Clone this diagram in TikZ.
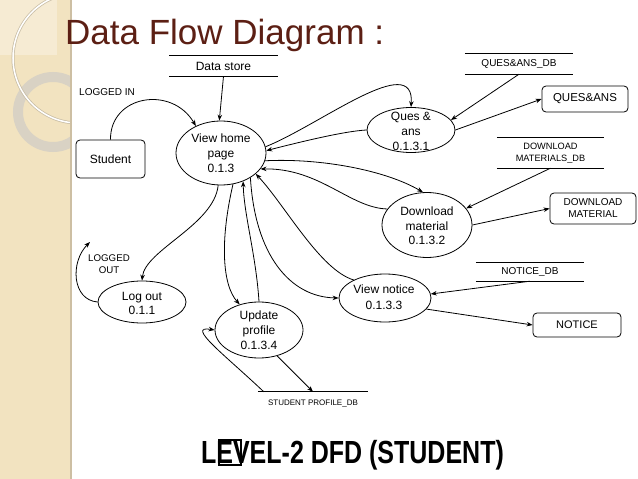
\documentclass[tikz,border=0pt]{standalone}
\usepackage{fontspec}
\setmainfont{Liberation Sans}
\usetikzlibrary{shapes.geometric,arrows.meta,calc}
\definecolor{panel}{HTML}{F2E3C0}
\definecolor{panellight}{HTML}{F6EBD3}
\definecolor{ringcol}{HTML}{D9D2C4}
\definecolor{arcshadow}{HTML}{C8BDA5}
\definecolor{paneledge}{HTML}{CDBFA3}
\definecolor{titlecol}{HTML}{5C1F14}
\begin{document}
\begin{tikzpicture}[x=1pt,y=-1pt,
  proc/.style={ellipse, draw, line width=0.8pt, inner sep=0pt},
  ext/.style={draw, rounded corners=4pt, line width=0.8pt, inner sep=0pt, align=center},
  store/.style={inner sep=0pt, align=center},
  flow/.style={line width=0.8pt, -{Stealth[length=6pt,width=4.5pt]}},
  ptxt/.style={inner sep=0pt, align=center, font=\fontsize{12}{15}\selectfont},
  stline/.style={line width=0.8pt}]

\fill[white] (0,0) rectangle (638,479);
\useasboundingbox (0,0) rectangle (638,479);

% left decorative panel
\fill[panel] (0,0) rectangle (70,479);
\begin{scope}
  \clip (0,0) rectangle (70,479);
  \fill[panellight] (0,0) rectangle (57,55);
  \draw[ringcol, line width=10pt] (53,112) circle[radius=35];
  \draw[arcshadow, line width=3pt] (78,58) circle[radius=65];
  \draw[white, line width=1.5pt] (78,58) circle[radius=65];
\end{scope}
\fill[paneledge] (70,0) rectangle (72,479);

% title
\node[anchor=base west, inner sep=0pt, text=titlecol, font=\fontsize{35}{35}\selectfont] (title) at (65,45) {Data Flow Diagram :};

% external entities
\node[ext, minimum width=69pt, minimum height=38pt, font=\fontsize{12}{14}\selectfont] (student) at (110.5,159) {Student};
\node[ext, minimum width=86pt, minimum height=26pt, font=\fontsize{11.5}{14}\selectfont] (qabox) at (585,99) {QUES\&ANS};
\node[ext, minimum width=86pt, minimum height=31pt, font=\fontsize{10}{12}\selectfont] (dmbox) at (593,208.5) {DOWNLOAD\\MATERIAL};
\node[ext, minimum width=88pt, minimum height=24pt, font=\fontsize{11}{13}\selectfont] (nbox) at (577,325) {NOTICE};

% processes
\node[proc, minimum width=90pt, minimum height=64pt] (vh) at (221,153) {};
\node[ptxt] (vht) at (221,153) {View home\\page\\0.1.3};
\node[proc, minimum width=88pt, minimum height=45pt] (qa) at (411,130) {};
\node[ptxt] (qat) at (411,131) {Ques \&\\ans\\0.1.3.1};
\node[proc, minimum width=90pt, minimum height=65pt] (dl) at (427,225) {};
\node[ptxt, font=\fontsize{12}{14.5}\selectfont] (dlt) at (427,226) {Download\\material\\0.1.3.2};
\node[proc, minimum width=92pt, minimum height=48pt] (vn) at (385,298) {};
\node[ptxt, font=\fontsize{12}{16}\selectfont] (vnt) at (384,297) {View notice\\0.1.3.3};
\node[proc, minimum width=88pt, minimum height=42pt] (lo) at (142,302) {};
\node[ptxt, font=\fontsize{12}{14}\selectfont] (lot) at (142,303) {Log out\\0.1.1};
\node[proc, minimum width=88pt, minimum height=56pt] (up) at (259,330) {};
\node[ptxt] (upt) at (259,330) {Update\\profile\\0.1.3.4};

% data stores
\node[store, minimum width=108pt, minimum height=20pt, font=\fontsize{12}{14}\selectfont] (ds) at (223.5,66) {Data store};
\node[store, minimum width=108pt, minimum height=20pt, font=\fontsize{10}{12}\selectfont] (qadb) at (519,64) {QUES\&ANS\_DB};
\node[store, minimum width=107pt, minimum height=30pt, font=\fontsize{9.2}{12}\selectfont] (dmdb) at (550.5,153) {DOWNLOAD\\MATERIALS\_DB};
\node[store, minimum width=108pt, minimum height=18pt, font=\fontsize{10}{12}\selectfont] (ndb) at (530,272) {NOTICE\_DB};
\node[store, minimum width=110pt, minimum height=22pt, font=\fontsize{8}{10}\selectfont] (spdb) at (313,403) {STUDENT PROFILE\_DB};
\foreach \s in {ds,qadb,dmdb,ndb} {
  \draw[stline] (\s.north west) -- (\s.north east) (\s.south west) -- (\s.south east);
}
\draw[stline] (spdb.north west) -- (spdb.north east);

% labels
\node[anchor=west, inner sep=0pt, font=\fontsize{10}{12}\selectfont] (lin) at (79,92) {LOGGED IN};
\node[align=center, inner sep=0pt, font=\fontsize{9.7}{12}\selectfont] (lout) at (109,264) {LOGGED\\OUT};
\coordinate (loend) at (90,242);

% flows
\draw[flow] (ds.south) -- (vh.93);
\draw[flow] (student.north) .. controls (110,95) and (172,85) .. (vh.133);
\draw[flow] (vh.8) .. controls (320,125) and (415,50) .. (qa.north);
\draw[flow] (qa.west) .. controls (345,131) and (300,142) .. (vh.3);
\draw[flow] (qa.east) -- (qabox.west);
\draw[flow] (qadb.south) -- (qa.14);
\draw[flow] (vh.-10) .. controls (320,158) and (385,170) .. (dl.97);
\draw[flow] (dl.158) .. controls (350,208) and (320,168) .. (vh.-22);
\draw[flow] (dmdb.south) -- (dl.23);
\draw[flow] (dl.east) -- (dmbox.west);
\draw[flow] (ndb.south) -- (vn.5);
\draw[flow] (vn.-15) -- (nbox.west);
\draw[flow] (vn.150) .. controls (320,270) and (285,205) .. (vh.-31);
\draw[flow] (vh.-40) .. controls (255,255) and (290,297) .. (vn.west);
\draw[flow] (vh.-69) .. controls (220,240) and (222,285) .. (up.127);
\draw[flow] (up.north) .. controls (256,255) and (244,215) .. (vh.-52);
\draw[flow] (vh.-95) .. controls (214,225) and (145,250) .. (lo.north);
\draw[flow] (lo.west) .. controls (72,300) and (70,262) .. (loend);
\draw[flow] ([xshift=6pt]spdb.north west) .. controls (225,355) and (185,325) .. (up.west);
\draw[flow] (up.-55) -- (spdb.north);

% bottom caption
\node[anchor=base, inner sep=0pt, font=\bfseries\fontsize{25}{25}\selectfont] (cap) at (352.5,463) {\scalebox{1}[1.28]{LEVEL-2 DFD (STUDENT)}};
\draw[line width=1.4pt] (219,440) rectangle (241,465);
\end{tikzpicture}
\end{document}
